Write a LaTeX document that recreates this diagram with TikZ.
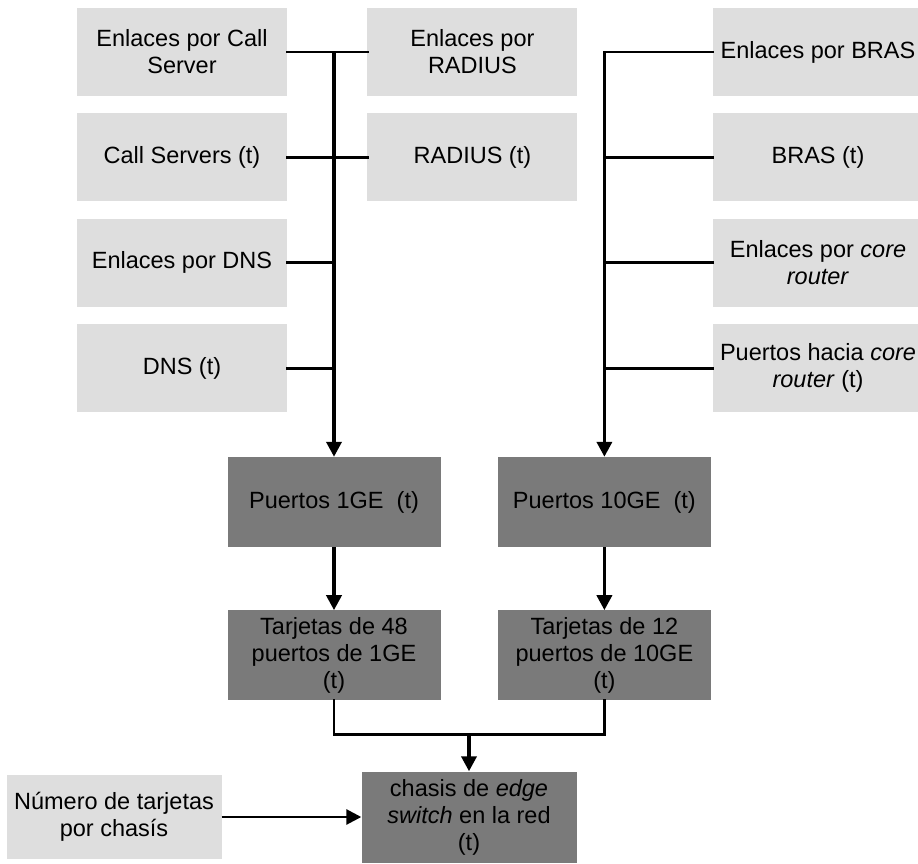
\documentclass[tikz,border=0pt]{standalone}
\usepackage{fontspec}
\setmainfont{Liberation Sans}
\usepackage{tikz}
\usetikzlibrary{positioning,arrows.meta}
\definecolor{KPILight}{HTML}{DEDEDE}
\definecolor{KPIDark}{HTML}{7A7A7A}
\definecolor{KPILine}{HTML}{000000}
\tikzset{kpiinput/.style={fill=KPILight, inner sep=0pt, align=center, minimum width=210pt, minimum height=88pt, font=\fontsize{23.5}{27}\selectfont}, kpicalc/.style={fill=KPIDark, inner sep=0pt, align=center, minimum width=213pt, minimum height=90pt, font=\fontsize{23.5}{27}\selectfont}, kpifeed/.style={line width=2.8pt, line cap=rect, draw=KPILine}, kpitrunk/.style={-{Triangle[length=15pt,width=15pt]}, line width=3.6pt, draw=KPILine}, kpiarrow/.style={-{Triangle[length=15pt,width=15pt]}, line width=2.8pt, draw=KPILine}}

\begin{document}
\begin{tikzpicture}[x=1pt, y=-1pt, node distance=17pt]
\useasboundingbox (0,0) rectangle (918,864);
% left and middle inputs
\node[kpiinput] (csl) at (182,52) {Enlaces por Call\\Server};
\node[kpiinput, below=of csl] (cs) {Call Servers (t)};
\node[kpiinput, below=of cs] (dnsl) {Enlaces por DNS};
\node[kpiinput, below=of dnsl] (dns) {DNS (t)};
\node[kpiinput, right=80pt of csl] (radl) {Enlaces por\\RADIUS};
\node[kpiinput, below=of radl] (rad) {RADIUS (t)};
% right inputs
\node[kpiinput] (brasl) at (818,52) {Enlaces por BRAS};
\node[kpiinput, below=of brasl] (bras) {BRAS (t)};
\node[kpiinput, below=of bras] (corel) {Enlaces por \textit{core}\\\textit{router}};
\node[kpiinput, below=of corel] (corep) {Puertos hacia \textit{core}\\\textit{router} (t)};
% calculated blocks
\node[kpicalc] (p1ge) at (334,502) {Puertos 1GE\ \ (t)};
\node[kpicalc, right=57pt of p1ge] (p10ge) {Puertos 10GE\ \ (t)};
\node[kpicalc, below=63pt of p1ge] (t48) {Tarjetas de 48\\puertos de 1GE\\(t)};
\node[kpicalc, below=63pt of p10ge] (t12) {Tarjetas de 12\\puertos de 10GE\\(t)};
\node[kpicalc, minimum width=215pt, minimum height=91pt] (chasis) at (469,817) {chasis de \textit{edge}\\\textit{switch} en la red\\(t)};
\node[kpiinput, minimum width=215pt, minimum height=84pt] (ntc) at (114,817) {Número de tarjetas\\por chasís};
\coordinate[above=37pt of chasis.north] (join);
% connectors
\draw[kpifeed] (csl) -- (radl);
\draw[kpifeed] (cs) -- (rad);
\draw[kpifeed] (dnsl.east) -- (dnsl.east -| p1ge.north);
\draw[kpifeed] (dns.east) -- (dns.east -| p1ge.north);
\draw[kpitrunk] (csl.east -| p1ge.north) -- (p1ge.north);
\draw[kpifeed] (brasl.west -| p10ge.north) -- (brasl.west);
\draw[kpifeed] (bras.west -| p10ge.north) -- (bras.west);
\draw[kpifeed] (corel.west -| p10ge.north) -- (corel.west);
\draw[kpifeed] (corep.west -| p10ge.north) -- (corep.west);
\draw[kpitrunk] (brasl.west -| p10ge.north) -- (p10ge.north);
\draw[kpitrunk] (p1ge) -- (t48);
\draw[kpitrunk] (p10ge) -- (t12);
\draw[kpifeed] (t48.south) |- (join) -| (t12.south);
\draw[kpitrunk] (join) -- (chasis.north);
\draw[kpiarrow] (ntc) -- (chasis);
\end{tikzpicture}
\end{document}
